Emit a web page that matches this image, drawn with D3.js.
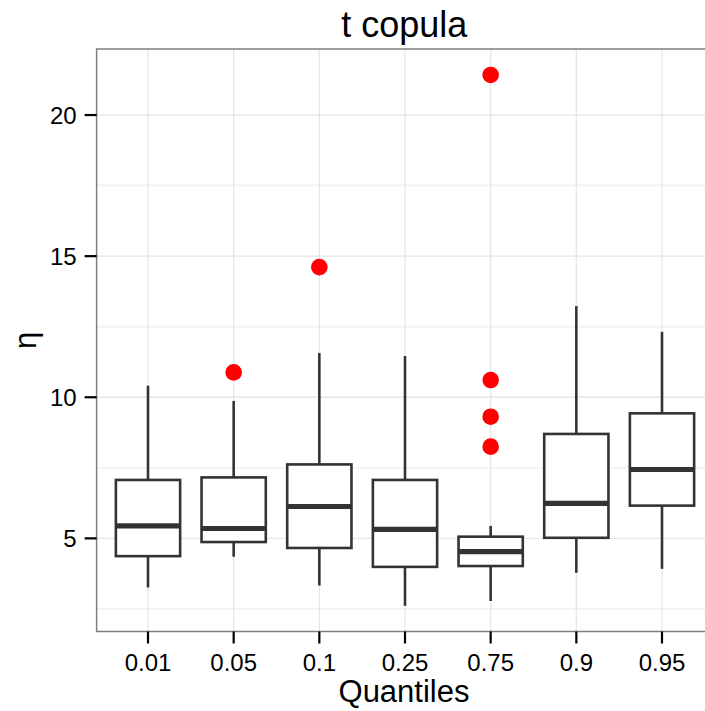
<!DOCTYPE html>
<html><head><meta charset="utf-8">
<script src="https://cdn.jsdelivr.net/npm/d3@7"></script>
<style>body{margin:0;background:#fff;overflow:hidden}text{font-family:"Liberation Sans",Arial,sans-serif}</style>
</head><body>
<svg id="c" width="705" height="711"></svg>
<script>
const categories = ["0.01","0.05","0.1","0.25","0.75","0.9","0.95"];
const whiskerLow = [3.26, 4.35, 3.33, 2.61, 2.78, 3.78, 3.92];
const q1 =         [4.37, 4.87, 4.66, 3.99, 4.02, 5.02, 6.16];
const median =     [5.44, 5.35, 6.13, 5.32, 4.53, 6.24, 7.44];
const q3 =         [7.07, 7.16, 7.62, 7.07, 5.06, 8.70, 9.43];
const whiskerHigh =[10.41, 9.87, 11.57, 11.46, 5.44, 13.23, 12.32];
const outliers = [
  {cat:"0.05", v:10.88},
  {cat:"0.1", v:14.61},
  {cat:"0.75", v:21.42},
  {cat:"0.75", v:10.61},
  {cat:"0.75", v:9.31},
  {cat:"0.75", v:8.25}
];
const yTicks = [5,10,15,20];
const yMinor = [2.5,7.5,12.5,17.5];

const svg = d3.select("#c");
const L=96.6, R=713.4, T=49, B=631.5;
// ggplot-style discrete axis: expansion of 0.6 of a step on each side
const x = d3.scalePoint().domain(categories).range([L,R]).padding(0.6);
const step = x.step();
const bw = step*0.75;
const y = d3.scaleLinear().domain([1.70,22.34]).range([B,T]);

// grid
const g = svg.append("g");
g.selectAll(".mn").data(yMinor).join("line").attr("x1",L).attr("x2",R)
 .attr("y1",d=>y(d)).attr("y2",d=>y(d)).attr("stroke","#f4f4f4").attr("stroke-width",2);
g.selectAll(".mj").data(yTicks).join("line").attr("x1",L).attr("x2",R)
 .attr("y1",d=>y(d)).attr("y2",d=>y(d)).attr("stroke","#e6e6e6").attr("stroke-width",1.3);
g.selectAll(".vx").data(categories).join("line").attr("y1",T).attr("y2",B)
 .attr("x1",d=>x(d)).attr("x2",d=>x(d)).attr("stroke","#e6e6e6").attr("stroke-width",1.3);

// boxes
const col="#333333", lw=2.6;
categories.forEach((c,i)=>{
  const cx=x(c);
  svg.append("line").attr("x1",cx).attr("x2",cx).attr("y1",y(q3[i])).attr("y2",y(whiskerHigh[i])).attr("stroke",col).attr("stroke-width",lw);
  svg.append("line").attr("x1",cx).attr("x2",cx).attr("y1",y(q1[i])).attr("y2",y(whiskerLow[i])).attr("stroke",col).attr("stroke-width",lw);
  svg.append("rect").attr("x",cx-bw/2).attr("width",bw).attr("y",y(q3[i])).attr("height",y(q1[i])-y(q3[i]))
    .attr("fill","#fff").attr("stroke",col).attr("stroke-width",lw);
  svg.append("line").attr("x1",cx-bw/2).attr("x2",cx+bw/2).attr("y1",y(median[i])).attr("y2",y(median[i])).attr("stroke",col).attr("stroke-width",5.2);
});
svg.selectAll(".o").data(outliers).join("circle").attr("cx",d=>x(d.cat)).attr("cy",d=>y(d.v)).attr("r",8.3).attr("fill","#ff0000");

// border
svg.append("rect").attr("x",L).attr("y",T).attr("width",R-L).attr("height",B-T).attr("fill","none").attr("stroke","#7f7f7f").attr("stroke-width",1.5);

// y axis
yTicks.forEach(t=>{
  svg.append("line").attr("x1",L-12).attr("x2",L).attr("y1",y(t)).attr("y2",y(t)).attr("stroke","#000").attr("stroke-width",2.2);
  svg.append("text").attr("x",L-20).attr("y",y(t)).attr("dy","0.36em").attr("text-anchor","end").attr("font-size",24).text(t);
});
categories.forEach(c=>{
  svg.append("line").attr("x1",x(c)).attr("x2",x(c)).attr("y1",B).attr("y2",B+12).attr("stroke","#000").attr("stroke-width",2.2);
  svg.append("text").attr("x",x(c)).attr("y",671).attr("text-anchor","middle").attr("font-size",24).text(c);
});
svg.append("text").attr("x",(96.6+704)/2+4).attr("y",37).attr("text-anchor","middle").attr("font-size",36).text("t copula");
svg.append("text").attr("x",404).attr("y",702).attr("text-anchor","middle").attr("font-size",31).text("Quantiles");
svg.append("text").attr("transform",`translate(36,${(T+B)/2}) rotate(-90)`).attr("text-anchor","middle").attr("font-size",31).text("η");
</script>
</body></html>
